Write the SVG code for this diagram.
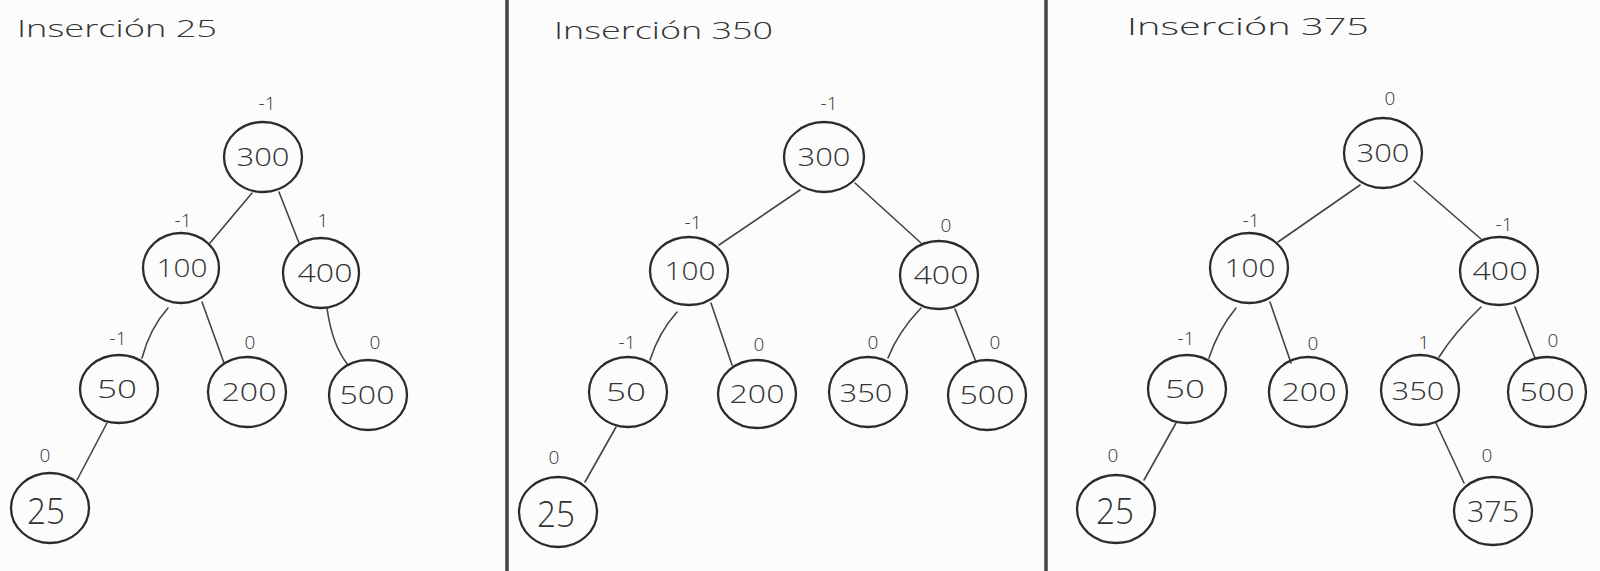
<svg xmlns="http://www.w3.org/2000/svg" width="1600" height="571" viewBox="0 0 1600 571">
  <style>
    .bg { fill: #fcfcfc; }
    .divider { stroke: #444; stroke-width: 3.5; fill: none; }
    .node ellipse { fill: none; stroke: #2b2b2b; stroke-width: 2.3; }
    .val { font-family: "Open Sans", "Liberation Sans", sans-serif; font-weight: 300; font-size: 25px; fill: #333; text-anchor: middle; }
    .val.big { font-size: 36px; }
    .val.mid { font-size: 30px; }
    .bal { font-family: "Open Sans", "Liberation Sans", sans-serif; font-weight: 300; font-size: 19px; fill: #333; text-anchor: middle; }
    .title { font-family: "Open Sans", "Liberation Sans", sans-serif; font-weight: 300; font-size: 23px; fill: #333; }
    .edges path { fill: none; stroke: #444; stroke-width: 1.6; stroke-linecap: round; }
  </style>

  <rect class="bg" x="0" y="0" width="1600" height="571"/>

  <!-- panel separators -->
  <line class="divider" x1="507" y1="0" x2="507" y2="571"/>
  <line class="divider" x1="1046" y1="0" x2="1046" y2="571"/>

  <!-- titles -->
  <text class="title" x="17" y="37" textLength="200" lengthAdjust="spacingAndGlyphs">Inserción 25</text>
  <text class="title" x="554" y="39" textLength="219" lengthAdjust="spacingAndGlyphs">Inserción 350</text>
  <text class="title" x="1127" y="35" textLength="242" lengthAdjust="spacingAndGlyphs">Inserción 375</text>

  <!-- tree edges -->
  <g class="edges" id="edges">
    <!-- panel 1 -->
    <path d="M252,193 L210,243"/>
    <path d="M279,192 L299,243"/>
    <path d="M168,308 Q150,328 142,358"/>
    <path d="M202,302 L224,363"/>
    <path d="M327,308 Q332,345 348,365"/>
    <path d="M107,423 L77,480"/>
    <!-- panel 2 -->
    <path d="M800,190 L719,245"/>
    <path d="M855,183 L921,243"/>
    <path d="M677,312 Q659,332 650,360"/>
    <path d="M711,303 L732,365"/>
    <path d="M921,308 Q898,332 888,358"/>
    <path d="M955,309 L976,362"/>
    <path d="M616,427 L585,482"/>
    <!-- panel 3 -->
    <path d="M1360,185 L1278,242"/>
    <path d="M1414,181 L1481,239"/>
    <path d="M1236,308 Q1218,330 1209,358"/>
    <path d="M1270,302 L1291,363"/>
    <path d="M1481,307 Q1455,332 1439,357"/>
    <path d="M1515,307 L1535,358"/>
    <path d="M1436,423 L1464,483"/>
    <path d="M1176,423 L1144,480"/>
  </g>

  <!-- panel 1: after inserting 25 -->
  <g class="node" id="p1-300"><text class="bal" x="267" y="110">-1</text><ellipse cx="263" cy="157" rx="39" ry="35"/><text class="val" x="263" y="166" textLength="53" lengthAdjust="spacingAndGlyphs">300</text></g>
  <g class="node" id="p1-100"><text class="bal" x="183" y="227">-1</text><ellipse cx="181" cy="268" rx="38" ry="35"/><text class="val" x="182" y="277" textLength="51" lengthAdjust="spacingAndGlyphs">100</text></g>
  <g class="node" id="p1-400"><text class="bal" x="323" y="227">1</text><ellipse cx="321" cy="273" rx="38" ry="35"/><text class="val" x="325" y="282" textLength="55" lengthAdjust="spacingAndGlyphs">400</text></g>
  <g class="node" id="p1-50"><text class="bal" x="118" y="345">-1</text><ellipse cx="119" cy="389" rx="39" ry="34"/><text class="val" x="117" y="398" textLength="40" lengthAdjust="spacingAndGlyphs">50</text></g>
  <g class="node" id="p1-200"><text class="bal" x="250" y="349">0</text><ellipse cx="247" cy="392" rx="39" ry="35"/><text class="val" x="249" y="401" textLength="55" lengthAdjust="spacingAndGlyphs">200</text></g>
  <g class="node" id="p1-500"><text class="bal" x="375" y="349">0</text><ellipse cx="368" cy="395" rx="39" ry="35"/><text class="val" x="367" y="404" textLength="55" lengthAdjust="spacingAndGlyphs">500</text></g>
  <g class="node" id="p1-25"><text class="bal" x="45" y="462">0</text><ellipse cx="50" cy="508" rx="39" ry="35"/><text class="val big" x="46" y="524" textLength="38" lengthAdjust="spacingAndGlyphs">25</text></g>

  <!-- panel 2: after inserting 350 -->
  <g class="node" id="p2-300"><text class="bal" x="829" y="110">-1</text><ellipse cx="824" cy="157" rx="40" ry="35"/><text class="val" x="824" y="166" textLength="53" lengthAdjust="spacingAndGlyphs">300</text></g>
  <g class="node" id="p2-100"><text class="bal" x="693" y="229">-1</text><ellipse cx="689" cy="271" rx="39" ry="34"/><text class="val" x="690" y="280" textLength="51" lengthAdjust="spacingAndGlyphs">100</text></g>
  <g class="node" id="p2-400"><text class="bal" x="946" y="232">0</text><ellipse cx="939" cy="275" rx="39" ry="34"/><text class="val" x="941" y="284" textLength="55" lengthAdjust="spacingAndGlyphs">400</text></g>
  <g class="node" id="p2-50"><text class="bal" x="627" y="349">-1</text><ellipse cx="628" cy="392" rx="39" ry="35"/><text class="val" x="626" y="401" textLength="40" lengthAdjust="spacingAndGlyphs">50</text></g>
  <g class="node" id="p2-200"><text class="bal" x="759" y="351">0</text><ellipse cx="757" cy="394" rx="39" ry="34"/><text class="val" x="757" y="403" textLength="55" lengthAdjust="spacingAndGlyphs">200</text></g>
  <g class="node" id="p2-350"><text class="bal" x="873" y="349">0</text><ellipse cx="868" cy="392" rx="39" ry="35"/><text class="val" x="866" y="402" textLength="53" lengthAdjust="spacingAndGlyphs">350</text></g>
  <g class="node" id="p2-500"><text class="bal" x="995" y="349">0</text><ellipse cx="987" cy="395" rx="39" ry="35"/><text class="val" x="987" y="404" textLength="55" lengthAdjust="spacingAndGlyphs">500</text></g>
  <g class="node" id="p2-25"><text class="bal" x="554" y="464">0</text><ellipse cx="558" cy="512" rx="39" ry="35"/><text class="val big" x="556" y="527" textLength="38" lengthAdjust="spacingAndGlyphs">25</text></g>

  <!-- panel 3: after inserting 375 -->
  <g class="node" id="p3-300"><text class="bal" x="1390" y="105">0</text><ellipse cx="1383" cy="153" rx="39" ry="35"/><text class="val" x="1383" y="162" textLength="53" lengthAdjust="spacingAndGlyphs">300</text></g>
  <g class="node" id="p3-100"><text class="bal" x="1251" y="227">-1</text><ellipse cx="1249" cy="268" rx="39" ry="35"/><text class="val" x="1250" y="277" textLength="51" lengthAdjust="spacingAndGlyphs">100</text></g>
  <g class="node" id="p3-400"><text class="bal" x="1504" y="231">-1</text><ellipse cx="1499" cy="271" rx="39" ry="34"/><text class="val" x="1500" y="280" textLength="55" lengthAdjust="spacingAndGlyphs">400</text></g>
  <g class="node" id="p3-50"><text class="bal" x="1186" y="345">-1</text><ellipse cx="1187" cy="389" rx="39" ry="34"/><text class="val" x="1185" y="398" textLength="40" lengthAdjust="spacingAndGlyphs">50</text></g>
  <g class="node" id="p3-200"><text class="bal" x="1313" y="350">0</text><ellipse cx="1308" cy="392" rx="39" ry="35"/><text class="val" x="1309" y="401" textLength="55" lengthAdjust="spacingAndGlyphs">200</text></g>
  <g class="node" id="p3-350"><text class="bal" x="1424" y="349">1</text><ellipse cx="1420" cy="390" rx="39" ry="35"/><text class="val" x="1418" y="400" textLength="53" lengthAdjust="spacingAndGlyphs">350</text></g>
  <g class="node" id="p3-500"><text class="bal" x="1553" y="347">0</text><ellipse cx="1547" cy="392" rx="39" ry="35"/><text class="val" x="1547" y="401" textLength="55" lengthAdjust="spacingAndGlyphs">500</text></g>
  <g class="node" id="p3-25"><text class="bal" x="1113" y="462">0</text><ellipse cx="1116" cy="509" rx="39" ry="34"/><text class="val big" x="1115" y="524" textLength="38" lengthAdjust="spacingAndGlyphs">25</text></g>
  <g class="node" id="p3-375"><text class="bal" x="1487" y="462">0</text><ellipse cx="1493" cy="511" rx="39" ry="34"/><text class="val mid" x="1493" y="522" textLength="52" lengthAdjust="spacingAndGlyphs">375</text></g>
</svg>
